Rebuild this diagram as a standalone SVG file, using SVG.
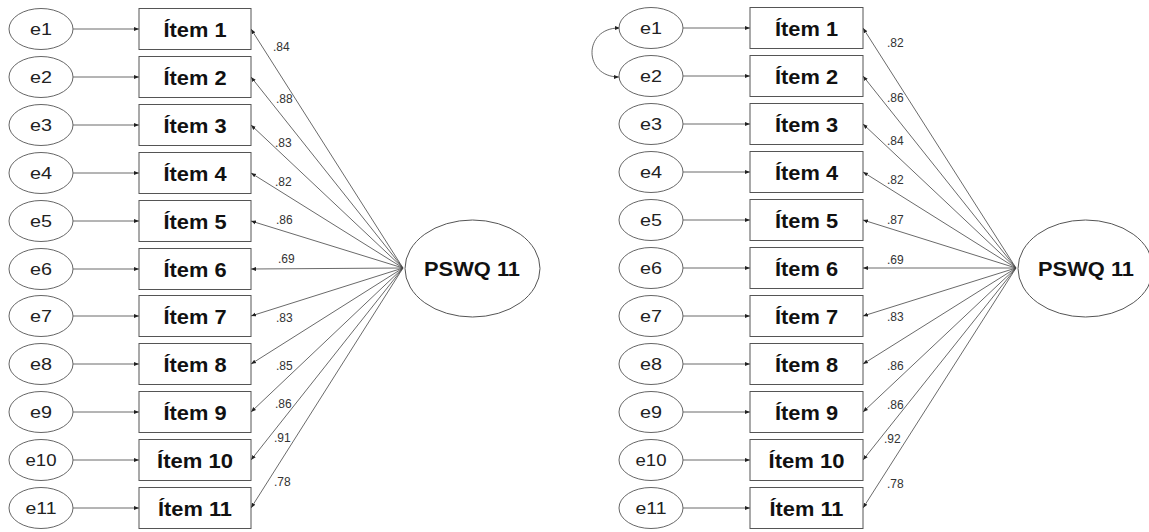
<svg xmlns="http://www.w3.org/2000/svg" width="1149" height="532" viewBox="0 0 1149 532">
<style>
.bg{fill:#ffffff}
.err{fill:#ffffff;stroke:#666;stroke-width:1}
.box{fill:#ffffff;stroke:#555;stroke-width:1}
.lat{fill:#ffffff;stroke:#555;stroke-width:1}
.et{font-family:"Liberation Sans",Arial,sans-serif;font-size:17px;fill:#222;text-anchor:middle}
.it{font-family:"Liberation Sans",Arial,sans-serif;font-size:19.5px;font-weight:bold;fill:#111;text-anchor:middle}
.lt{font-family:"Liberation Sans",Arial,sans-serif;font-size:20px;font-weight:bold;fill:#111;text-anchor:middle}
.num{font-family:"Liberation Sans",Arial,sans-serif;font-size:12px;fill:#333}
.c{fill:none;stroke:#444;stroke-width:0.8}
</style>
<defs>
<marker id="ah" markerWidth="6" markerHeight="6" refX="5" refY="3" orient="auto" markerUnits="userSpaceOnUse">
<path d="M0,1 L5,3 L0,5 Z" fill="#222"/>
</marker>
<marker id="ahs" markerWidth="6" markerHeight="6" refX="1" refY="3" orient="auto" markerUnits="userSpaceOnUse">
<path d="M5,1 L0,3 L5,5 Z" fill="#222"/>
</marker>
</defs>
<rect class="bg" x="0" y="0" width="1149" height="532"/>

<g id="connectors">
<line class="c" x1="73" y1="29" x2="139" y2="29" marker-end="url(#ah)"/>
<line class="c" x1="73" y1="77" x2="139" y2="77" marker-end="url(#ah)"/>
<line class="c" x1="73" y1="125" x2="139" y2="125" marker-end="url(#ah)"/>
<line class="c" x1="73" y1="173" x2="139" y2="173" marker-end="url(#ah)"/>
<line class="c" x1="73" y1="221" x2="139" y2="221" marker-end="url(#ah)"/>
<line class="c" x1="73" y1="269" x2="139" y2="269" marker-end="url(#ah)"/>
<line class="c" x1="73" y1="316" x2="139" y2="316" marker-end="url(#ah)"/>
<line class="c" x1="73" y1="364" x2="139" y2="364" marker-end="url(#ah)"/>
<line class="c" x1="73" y1="412" x2="139" y2="412" marker-end="url(#ah)"/>
<line class="c" x1="73" y1="460" x2="139" y2="460" marker-end="url(#ah)"/>
<line class="c" x1="73" y1="508" x2="139" y2="508" marker-end="url(#ah)"/>
<line class="c" x1="403" y1="268" x2="251" y2="29" marker-end="url(#ah)"/>
<line class="c" x1="403" y1="268" x2="251" y2="77" marker-end="url(#ah)"/>
<line class="c" x1="403" y1="268" x2="251" y2="125" marker-end="url(#ah)"/>
<line class="c" x1="403" y1="268" x2="251" y2="173" marker-end="url(#ah)"/>
<line class="c" x1="403" y1="268" x2="251" y2="221" marker-end="url(#ah)"/>
<line class="c" x1="403" y1="268" x2="251" y2="269" marker-end="url(#ah)"/>
<line class="c" x1="403" y1="268" x2="251" y2="316" marker-end="url(#ah)"/>
<line class="c" x1="403" y1="268" x2="251" y2="364" marker-end="url(#ah)"/>
<line class="c" x1="403" y1="268" x2="251" y2="412" marker-end="url(#ah)"/>
<line class="c" x1="403" y1="268" x2="251" y2="460" marker-end="url(#ah)"/>
<line class="c" x1="403" y1="268" x2="251" y2="508" marker-end="url(#ah)"/>
<line class="c" x1="683" y1="28" x2="750" y2="28" marker-end="url(#ah)"/>
<line class="c" x1="683" y1="76" x2="750" y2="76" marker-end="url(#ah)"/>
<line class="c" x1="683" y1="124" x2="750" y2="124" marker-end="url(#ah)"/>
<line class="c" x1="683" y1="172" x2="750" y2="172" marker-end="url(#ah)"/>
<line class="c" x1="683" y1="220" x2="750" y2="220" marker-end="url(#ah)"/>
<line class="c" x1="683" y1="268" x2="750" y2="268" marker-end="url(#ah)"/>
<line class="c" x1="683" y1="316" x2="750" y2="316" marker-end="url(#ah)"/>
<line class="c" x1="683" y1="364" x2="750" y2="364" marker-end="url(#ah)"/>
<line class="c" x1="683" y1="412" x2="750" y2="412" marker-end="url(#ah)"/>
<line class="c" x1="683" y1="460" x2="750" y2="460" marker-end="url(#ah)"/>
<line class="c" x1="683" y1="508" x2="750" y2="508" marker-end="url(#ah)"/>
<path class="c" d="M619,28 C583,28 583,77 619,77" marker-start="url(#ahs)" marker-end="url(#ah)"/>
<line class="c" x1="1016" y1="268" x2="863" y2="28" marker-end="url(#ah)"/>
<line class="c" x1="1016" y1="268" x2="863" y2="76" marker-end="url(#ah)"/>
<line class="c" x1="1016" y1="268" x2="863" y2="124" marker-end="url(#ah)"/>
<line class="c" x1="1016" y1="268" x2="863" y2="172" marker-end="url(#ah)"/>
<line class="c" x1="1016" y1="268" x2="863" y2="220" marker-end="url(#ah)"/>
<line class="c" x1="1016" y1="268" x2="863" y2="268" marker-end="url(#ah)"/>
<line class="c" x1="1016" y1="268" x2="863" y2="316" marker-end="url(#ah)"/>
<line class="c" x1="1016" y1="268" x2="863" y2="364" marker-end="url(#ah)"/>
<line class="c" x1="1016" y1="268" x2="863" y2="412" marker-end="url(#ah)"/>
<line class="c" x1="1016" y1="268" x2="863" y2="460" marker-end="url(#ah)"/>
<line class="c" x1="1016" y1="268" x2="863" y2="508" marker-end="url(#ah)"/>
</g>

<g id="labels">
<text class="num" x="273" y="51">.84</text>
<text class="num" x="276" y="103">.88</text>
<text class="num" x="275" y="147">.83</text>
<text class="num" x="275" y="186">.82</text>
<text class="num" x="276" y="224">.86</text>
<text class="num" x="278" y="263">.69</text>
<text class="num" x="276" y="322">.83</text>
<text class="num" x="276" y="370">.85</text>
<text class="num" x="275" y="408">.86</text>
<text class="num" x="274" y="442">.91</text>
<text class="num" x="274" y="486">.78</text>
<text class="num" x="887" y="47">.82</text>
<text class="num" x="887" y="102">.86</text>
<text class="num" x="887" y="145">.84</text>
<text class="num" x="887" y="184">.82</text>
<text class="num" x="887" y="224">.87</text>
<text class="num" x="887" y="264">.69</text>
<text class="num" x="887" y="321">.83</text>
<text class="num" x="887" y="370">.86</text>
<text class="num" x="887" y="409">.86</text>
<text class="num" x="884" y="443">.92</text>
<text class="num" x="887" y="488">.78</text>
</g>

<g id="L-e1"><ellipse class="err" cx="41" cy="29" rx="32" ry="20.5"/><text class="et" x="41" y="35" textLength="22" lengthAdjust="spacingAndGlyphs">e1</text></g>
<g id="L-e2"><ellipse class="err" cx="41" cy="77" rx="32" ry="20.5"/><text class="et" x="41" y="83" textLength="22" lengthAdjust="spacingAndGlyphs">e2</text></g>
<g id="L-e3"><ellipse class="err" cx="41" cy="125" rx="32" ry="20.5"/><text class="et" x="41" y="131" textLength="22" lengthAdjust="spacingAndGlyphs">e3</text></g>
<g id="L-e4"><ellipse class="err" cx="41" cy="173" rx="32" ry="20.5"/><text class="et" x="41" y="179" textLength="22" lengthAdjust="spacingAndGlyphs">e4</text></g>
<g id="L-e5"><ellipse class="err" cx="41" cy="221" rx="32" ry="20.5"/><text class="et" x="41" y="227" textLength="22" lengthAdjust="spacingAndGlyphs">e5</text></g>
<g id="L-e6"><ellipse class="err" cx="41" cy="269" rx="32" ry="20.5"/><text class="et" x="41" y="275" textLength="22" lengthAdjust="spacingAndGlyphs">e6</text></g>
<g id="L-e7"><ellipse class="err" cx="41" cy="316" rx="32" ry="20.5"/><text class="et" x="41" y="322" textLength="22" lengthAdjust="spacingAndGlyphs">e7</text></g>
<g id="L-e8"><ellipse class="err" cx="41" cy="364" rx="32" ry="20.5"/><text class="et" x="41" y="370" textLength="22" lengthAdjust="spacingAndGlyphs">e8</text></g>
<g id="L-e9"><ellipse class="err" cx="41" cy="412" rx="32" ry="20.5"/><text class="et" x="41" y="418" textLength="22" lengthAdjust="spacingAndGlyphs">e9</text></g>
<g id="L-e10"><ellipse class="err" cx="41" cy="460" rx="32" ry="20.5"/><text class="et" x="41" y="466" textLength="31" lengthAdjust="spacingAndGlyphs">e10</text></g>
<g id="L-e11"><ellipse class="err" cx="41" cy="508" rx="32" ry="20.5"/><text class="et" x="41" y="514" textLength="31" lengthAdjust="spacingAndGlyphs">e11</text></g>

<g id="L-item1"><rect class="box" x="139" y="8.5" width="112" height="41"/><text class="it" x="195" y="36.5" textLength="63" lengthAdjust="spacingAndGlyphs">Ítem 1</text></g>
<g id="L-item2"><rect class="box" x="139" y="56.5" width="112" height="41"/><text class="it" x="195" y="84.5" textLength="63" lengthAdjust="spacingAndGlyphs">Ítem 2</text></g>
<g id="L-item3"><rect class="box" x="139" y="104.5" width="112" height="41"/><text class="it" x="195" y="132.5" textLength="63" lengthAdjust="spacingAndGlyphs">Ítem 3</text></g>
<g id="L-item4"><rect class="box" x="139" y="152.5" width="112" height="41"/><text class="it" x="195" y="180.5" textLength="63" lengthAdjust="spacingAndGlyphs">Ítem 4</text></g>
<g id="L-item5"><rect class="box" x="139" y="200.5" width="112" height="41"/><text class="it" x="195" y="228.5" textLength="63" lengthAdjust="spacingAndGlyphs">Ítem 5</text></g>
<g id="L-item6"><rect class="box" x="139" y="248.5" width="112" height="41"/><text class="it" x="195" y="276.5" textLength="63" lengthAdjust="spacingAndGlyphs">Ítem 6</text></g>
<g id="L-item7"><rect class="box" x="139" y="295.5" width="112" height="41"/><text class="it" x="195" y="323.5" textLength="63" lengthAdjust="spacingAndGlyphs">Ítem 7</text></g>
<g id="L-item8"><rect class="box" x="139" y="343.5" width="112" height="41"/><text class="it" x="195" y="371.5" textLength="63" lengthAdjust="spacingAndGlyphs">Ítem 8</text></g>
<g id="L-item9"><rect class="box" x="139" y="391.5" width="112" height="41"/><text class="it" x="195" y="419.5" textLength="63" lengthAdjust="spacingAndGlyphs">Ítem 9</text></g>
<g id="L-item10"><rect class="box" x="139" y="439.5" width="112" height="41"/><text class="it" x="195" y="467.5" textLength="76" lengthAdjust="spacingAndGlyphs">Ítem 10</text></g>
<g id="L-item11"><rect class="box" x="139" y="487.5" width="112" height="41"/><text class="it" x="195" y="515.5" textLength="74" lengthAdjust="spacingAndGlyphs">Ítem 11</text></g>

<g id="L-pswq"><ellipse class="lat" cx="472.5" cy="268.5" rx="67.5" ry="48.5"/><text class="lt" x="472" y="276" textLength="96" lengthAdjust="spacingAndGlyphs">PSWQ 11</text></g>

<g id="R-e1"><ellipse class="err" cx="651" cy="28" rx="32" ry="20.5"/><text class="et" x="651" y="34" textLength="22" lengthAdjust="spacingAndGlyphs">e1</text></g>
<g id="R-e2"><ellipse class="err" cx="651" cy="76" rx="32" ry="20.5"/><text class="et" x="651" y="82" textLength="22" lengthAdjust="spacingAndGlyphs">e2</text></g>
<g id="R-e3"><ellipse class="err" cx="651" cy="124" rx="32" ry="20.5"/><text class="et" x="651" y="130" textLength="22" lengthAdjust="spacingAndGlyphs">e3</text></g>
<g id="R-e4"><ellipse class="err" cx="651" cy="172" rx="32" ry="20.5"/><text class="et" x="651" y="178" textLength="22" lengthAdjust="spacingAndGlyphs">e4</text></g>
<g id="R-e5"><ellipse class="err" cx="651" cy="220" rx="32" ry="20.5"/><text class="et" x="651" y="226" textLength="22" lengthAdjust="spacingAndGlyphs">e5</text></g>
<g id="R-e6"><ellipse class="err" cx="651" cy="268" rx="32" ry="20.5"/><text class="et" x="651" y="274" textLength="22" lengthAdjust="spacingAndGlyphs">e6</text></g>
<g id="R-e7"><ellipse class="err" cx="651" cy="316" rx="32" ry="20.5"/><text class="et" x="651" y="322" textLength="22" lengthAdjust="spacingAndGlyphs">e7</text></g>
<g id="R-e8"><ellipse class="err" cx="651" cy="364" rx="32" ry="20.5"/><text class="et" x="651" y="370" textLength="22" lengthAdjust="spacingAndGlyphs">e8</text></g>
<g id="R-e9"><ellipse class="err" cx="651" cy="412" rx="32" ry="20.5"/><text class="et" x="651" y="418" textLength="22" lengthAdjust="spacingAndGlyphs">e9</text></g>
<g id="R-e10"><ellipse class="err" cx="651" cy="460" rx="32" ry="20.5"/><text class="et" x="651" y="466" textLength="31" lengthAdjust="spacingAndGlyphs">e10</text></g>
<g id="R-e11"><ellipse class="err" cx="651" cy="508" rx="32" ry="20.5"/><text class="et" x="651" y="514" textLength="31" lengthAdjust="spacingAndGlyphs">e11</text></g>

<g id="R-item1"><rect class="box" x="750" y="7.5" width="113" height="41"/><text class="it" x="806.5" y="35.5" textLength="63" lengthAdjust="spacingAndGlyphs">Ítem 1</text></g>
<g id="R-item2"><rect class="box" x="750" y="55.5" width="113" height="41"/><text class="it" x="806.5" y="83.5" textLength="63" lengthAdjust="spacingAndGlyphs">Ítem 2</text></g>
<g id="R-item3"><rect class="box" x="750" y="103.5" width="113" height="41"/><text class="it" x="806.5" y="131.5" textLength="63" lengthAdjust="spacingAndGlyphs">Ítem 3</text></g>
<g id="R-item4"><rect class="box" x="750" y="151.5" width="113" height="41"/><text class="it" x="806.5" y="179.5" textLength="63" lengthAdjust="spacingAndGlyphs">Ítem 4</text></g>
<g id="R-item5"><rect class="box" x="750" y="199.5" width="113" height="41"/><text class="it" x="806.5" y="227.5" textLength="63" lengthAdjust="spacingAndGlyphs">Ítem 5</text></g>
<g id="R-item6"><rect class="box" x="750" y="247.5" width="113" height="41"/><text class="it" x="806.5" y="275.5" textLength="63" lengthAdjust="spacingAndGlyphs">Ítem 6</text></g>
<g id="R-item7"><rect class="box" x="750" y="295.5" width="113" height="41"/><text class="it" x="806.5" y="323.5" textLength="63" lengthAdjust="spacingAndGlyphs">Ítem 7</text></g>
<g id="R-item8"><rect class="box" x="750" y="343.5" width="113" height="41"/><text class="it" x="806.5" y="371.5" textLength="63" lengthAdjust="spacingAndGlyphs">Ítem 8</text></g>
<g id="R-item9"><rect class="box" x="750" y="391.5" width="113" height="41"/><text class="it" x="806.5" y="419.5" textLength="63" lengthAdjust="spacingAndGlyphs">Ítem 9</text></g>
<g id="R-item10"><rect class="box" x="750" y="439.5" width="113" height="41"/><text class="it" x="806.5" y="467.5" textLength="76" lengthAdjust="spacingAndGlyphs">Ítem 10</text></g>
<g id="R-item11"><rect class="box" x="750" y="487.5" width="113" height="41"/><text class="it" x="806.5" y="515.5" textLength="74" lengthAdjust="spacingAndGlyphs">Ítem 11</text></g>

<g id="R-pswq"><ellipse class="lat" cx="1085.5" cy="268.5" rx="67.5" ry="48.5"/><text class="lt" x="1086" y="276" textLength="96" lengthAdjust="spacingAndGlyphs">PSWQ 11</text></g>
</svg>
